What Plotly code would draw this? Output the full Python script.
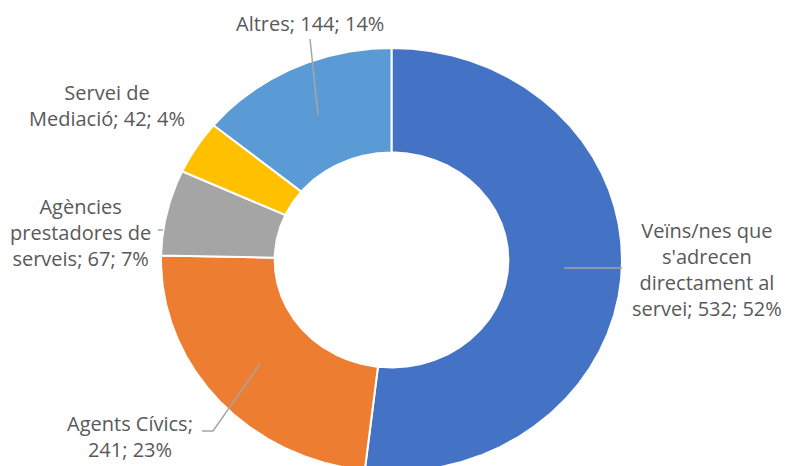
import textwrap
import numpy as np
import plotly.graph_objects as go

# ---- data ----
categories = [
    "Veïns/nes que s'adrecen directament al servei",
    "Agents Cívics",
    "Agències prestadores de serveis",
    "Servei de Mediació",
    "Altres",
]
values = [532, 241, 67, 42, 144]
colors = ["#4472C4", "#ED7D31", "#A5A5A5", "#FFC000", "#5B9BD5"]

# ---- layout parameters (pixel space) ----
W, H = 787, 466
CX, CY = 391.5, 260.0        # donut centre
RX, RY = 230.5, 212.0        # outer radii (chart is slightly squashed vertically)
HOLE = 0.507
wrap_widths = [16, 14, 15, 16, 30]
label_pos = [(707, 269), (130, 436), (80, 232), (107, 105), (310, 23)]
leader_lines = [
    [(564, 268), (622, 268)],
    [(260, 364), (213, 431), (202, 431)],
    [(158, 230), (163, 230)],
    [],
    [(310, 39), (318, 115)],
]
TEXT_COLOR = "#595959"
LINE_COLOR = "#A6A6A6"
FONT = "Open Sans"
FSIZE = 20

total = sum(values)
fig = go.Figure()

start = 0.0
for cat, v, col in zip(categories, values, colors):
    sweep = 360.0 * v / total
    th = np.radians(np.linspace(start, start + sweep, max(4, int(sweep * 3))))
    xo = CX + RX * np.sin(th)
    yo = CY - RY * np.cos(th)
    xi = CX + RX * HOLE * np.sin(th[::-1])
    yi = CY - RY * HOLE * np.cos(th[::-1])
    x = np.concatenate([xo, xi, xo[:1]])
    y = np.concatenate([yo, yi, yo[:1]])
    fig.add_trace(go.Scatter(
        x=x, y=y, mode="lines", fill="toself", fillcolor=col,
        line=dict(color="white", width=2),
        hoverinfo="text", text=f"{cat}: {v} ({v / total:.0%})",
        showlegend=False,
    ))
    start += sweep

# leader lines
for pts in leader_lines:
    if not pts:
        continue
    fig.add_trace(go.Scatter(
        x=[p[0] for p in pts], y=[p[1] for p in pts], mode="lines",
        line=dict(color=LINE_COLOR, width=1.5), hoverinfo="skip", showlegend=False,
    ))

# labels
for cat, v, wrap, (lx, ly) in zip(categories, values, wrap_widths, label_pos):
    pct = round(100 * v / total)
    txt = f"{cat}; {v}; {pct}%"
    lines = textwrap.wrap(txt, width=wrap, break_on_hyphens=False)
    fig.add_annotation(
        x=lx, y=ly, xref="x", yref="y", text="<br>".join(lines),
        showarrow=False, xanchor="center", yanchor="middle", align="center",
        font=dict(family=FONT, size=FSIZE, color=TEXT_COLOR),
    )

fig.update_layout(
    width=W, height=H,
    margin=dict(l=0, r=0, t=0, b=0),
    paper_bgcolor="white", plot_bgcolor="white",
    xaxis=dict(range=[0, W], visible=False, fixedrange=True),
    yaxis=dict(range=[H, 0], visible=False, fixedrange=True),
)

fig.write_html(
    "out.html",
    config={"displayModeBar": False},
    post_script="document.body.style.margin='0';document.body.style.overflow='hidden';",
)
